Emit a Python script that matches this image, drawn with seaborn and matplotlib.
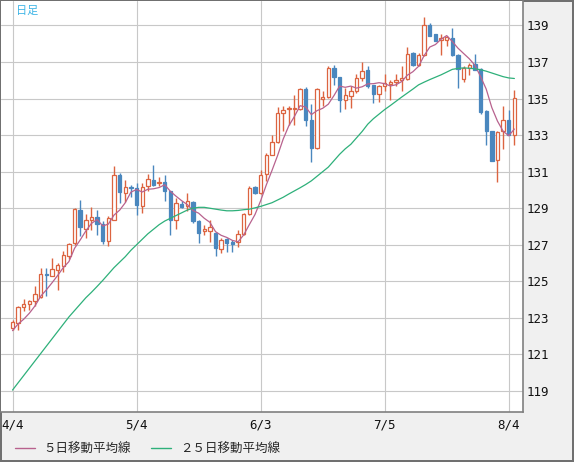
import numpy as np
import pandas as pd
import matplotlib
matplotlib.use("Agg")
import matplotlib.pyplot as plt
from matplotlib.lines import Line2D
import seaborn as sns

sns.set_theme(style="white")
plt.rcParams['font.family'] = ['Noto Sans CJK JP', 'DejaVu Sans']

# weekday calendar and x tick labels
dates = pd.bdate_range("2022-04-04", "2022-08-05")
tick_dates = ["2022-04-04", "2022-05-04", "2022-06-03", "2022-07-05", "2022-08-04"]
tick_labels = ["4/4", "5/4", "6/3", "7/5", "8/4"]
y_ticks = [119, 121, 123, 125, 127, 129, 131, 133, 135, 137, 139]

# daily candles
opens = [122.47, 122.74, 123.57, 123.75, 123.91, 124.13, 125.39, 125.30, 125.63, 125.85,
         126.36, 127.09, 128.92, 127.88, 128.33, 128.52, 128.13, 127.18, 128.37, 130.84,
         129.83, 130.16, 130.09, 129.10, 130.20, 130.56, 130.36, 130.43, 129.92, 128.37,
         129.25, 129.10, 129.34, 128.30, 127.73, 127.78, 127.64, 126.78, 127.31, 127.13,
         127.13, 127.58, 128.68, 130.14, 129.83, 130.85, 131.93, 132.62, 134.21, 134.42,
         134.43, 134.45, 135.55, 133.85, 132.30, 135.00, 135.09, 136.68, 136.19, 134.93,
         135.13, 135.44, 136.13, 136.59, 135.77, 135.24, 135.71, 135.82, 135.90, 136.04,
         136.08, 137.47, 136.83, 137.37, 139.00, 138.51, 138.22, 138.23, 138.29, 137.41,
         136.08, 136.68, 136.90, 136.63, 134.34, 133.21, 131.62, 133.21, 133.85, 133.03]
highs = [122.89, 123.66, 124.02, 123.99, 124.72, 125.72, 125.72, 126.27, 126.00, 126.64,
         127.10, 129.00, 129.43, 128.70, 129.06, 128.88, 128.28, 128.59, 131.29, 130.93,
         130.53, 130.29, 130.38, 130.38, 130.89, 131.38, 130.70, 130.83, 129.95, 129.56,
         129.37, 129.83, 129.40, 128.35, 128.10, 128.37, 127.70, 127.36, 127.36, 127.27,
         127.82, 128.75, 130.20, 130.20, 131.07, 132.02, 133.03, 134.52, 134.58, 134.58,
         135.22, 135.59, 135.64, 134.71, 135.59, 135.40, 136.77, 136.83, 136.19, 135.58,
         135.68, 136.32, 137.01, 136.81, 135.77, 135.77, 136.37, 136.04, 136.32, 136.77,
         137.81, 137.54, 137.50, 139.47, 139.15, 138.56, 138.51, 138.41, 138.87, 137.45,
         136.77, 136.95, 137.45, 136.68, 134.38, 133.25, 133.21, 134.58, 134.40, 135.49]
lows = [122.31, 122.34, 123.35, 123.44, 123.66, 124.10, 124.22, 125.28, 124.53, 125.50,
        126.20, 127.00, 127.46, 127.37, 127.82, 127.55, 127.04, 126.95, 128.33, 129.28,
        129.32, 129.61, 128.65, 128.73, 129.92, 130.20, 130.20, 129.37, 127.55, 127.86,
        129.00, 128.83, 128.20, 127.09, 127.55, 127.13, 126.36, 126.54, 126.63, 126.63,
        126.90, 127.55, 128.64, 129.80, 129.79, 130.47, 131.90, 132.57, 133.21, 133.58,
        133.58, 134.40, 133.48, 131.53, 132.24, 134.58, 135.04, 135.77, 134.27, 134.45,
        134.50, 135.31, 135.95, 135.57, 134.76, 134.80, 135.40, 134.95, 135.68, 135.40,
        136.04, 136.77, 136.77, 137.32, 138.42, 138.14, 137.37, 137.90, 137.32, 135.59,
        135.91, 136.28, 136.59, 134.16, 132.48, 131.57, 130.42, 132.26, 132.99, 132.48]
closes = [122.75, 123.60, 123.75, 123.90, 124.30, 125.39, 125.32, 125.67, 125.91, 126.45,
          127.04, 128.96, 127.95, 128.37, 128.52, 128.13, 127.18, 128.46, 130.84, 129.87,
          130.16, 130.09, 129.16, 130.16, 130.62, 130.29, 130.43, 129.92, 128.37, 129.28,
          129.06, 129.37, 128.28, 127.67, 127.88, 127.95, 126.82, 127.27, 127.09, 127.06,
          127.58, 128.70, 130.10, 129.83, 130.83, 131.90, 132.62, 134.21, 134.36, 134.47,
          134.47, 135.55, 133.83, 132.30, 135.55, 135.11, 136.68, 136.17, 134.91, 135.22,
          135.44, 136.13, 136.53, 135.71, 135.27, 135.71, 135.86, 135.90, 136.04, 136.13,
          137.45, 136.83, 137.37, 139.00, 138.45, 138.14, 138.29, 138.36, 137.36, 136.64,
          136.68, 136.86, 136.59, 134.27, 133.21, 131.60, 133.17, 133.83, 133.03, 135.04]

# 25-day average as drawn (it needs days before the window)
ma25 = [119.05, 119.45, 119.85, 120.25, 120.65, 121.05, 121.45, 121.85, 122.25, 122.65,
        123.05, 123.40, 123.75, 124.10, 124.40, 124.72, 125.05, 125.40, 125.75, 126.05,
        126.35, 126.70, 127.00, 127.30, 127.60, 127.85, 128.10, 128.30, 128.45, 128.60,
        128.75, 128.90, 129.00, 129.05, 129.05, 129.00, 128.95, 128.90, 128.86, 128.86,
        128.88, 128.92, 128.95, 129.02, 129.10, 129.20, 129.30, 129.45, 129.60, 129.78,
        129.95, 130.12, 130.30, 130.50, 130.75, 131.00, 131.25, 131.60, 131.95, 132.25,
        132.50, 132.85, 133.20, 133.60, 133.90, 134.15, 134.40, 134.62, 134.85, 135.08,
        135.30, 135.52, 135.75, 135.90, 136.04, 136.17, 136.30, 136.45, 136.60, 136.65,
        136.68, 136.66, 136.63, 136.58, 136.50, 136.40, 136.30, 136.20, 136.13, 136.10]
# first four 5-day values as drawn
ma5_head = [122.30, 122.67, 122.93, 123.26]

df = pd.DataFrame({"date": dates, "open": opens, "high": highs,
                   "low": lows, "close": closes, "ma25": ma25})
df["i"] = np.arange(len(df))
df["ma5"] = df["close"].rolling(5).mean()
df.loc[:3, "ma5"] = ma5_head
up = df["close"] >= df["open"]

UP = "#dc6440"
DOWN = "#4a87be"
MA5_C = "#b8628e"
MA25_C = "#2eb07a"

W, H = 574, 462
fig = plt.figure(figsize=(W / 100, H / 100), dpi=100, facecolor="#f0f0f0",
                 edgecolor="#707070", linewidth=1.5)
ax = fig.add_axes([1 / W, 50 / H, 522.3 / W, 411 / H])
ax.set_facecolor("white")

# wicks then bodies
ax.vlines(df.i[up], df.low[up], df.high[up], color=UP, lw=1, zorder=2)
ax.vlines(df.i[~up], df.low[~up], df.high[~up], color=DOWN, lw=1, zorder=2)
body_lo = np.minimum(df.open, df.close)
body_h = np.maximum((df.close - df.open).abs(), 0.03)
ax.bar(df.i[up], body_h[up], bottom=body_lo[up], width=0.6,
       facecolor="white", edgecolor=UP, linewidth=0.9, zorder=3)
ax.bar(df.i[~up], body_h[~up], bottom=body_lo[~up], width=0.6,
       facecolor=DOWN, edgecolor=DOWN, linewidth=0.9, zorder=3)

sns.lineplot(data=df, x="i", y="ma5", ax=ax, color=MA5_C, lw=0.9, zorder=4,
             label="５日移動平均線")
sns.lineplot(data=df, x="i", y="ma25", ax=ax, color=MA25_C, lw=0.9, zorder=4,
             label="２５日移動平均線")

ax.set_xlim(-2.04, 90.58)
ax.set_ylim(117.85, 140.34)
tick_pos = [int(np.where(dates == pd.Timestamp(d))[0][0]) for d in tick_dates]
ax.set_xticks(tick_pos)
ax.set_xticklabels(tick_labels)
ax.set_yticks(y_ticks)
ax.set_yticklabels([str(v) for v in y_ticks])
ax.yaxis.tick_right()
ax.tick_params(axis="both", length=0, labelsize=9, labelcolor="#111111")
ax.tick_params(axis="x", pad=4.5)
ax.tick_params(axis="y", pad=2.5)
for lab in ax.get_xticklabels() + ax.get_yticklabels():
    lab.set_family("DejaVu Sans Mono")
ax.set_xlabel("")
ax.set_ylabel("")
ax.grid(True, color="#c8c8c8", lw=0.8)
ax.set_axisbelow(True)
for s in ["left", "top"]:
    ax.spines[s].set_visible(False)
for s in ["right", "bottom"]:
    ax.spines[s].set_color("#808080")
    ax.spines[s].set_linewidth(1.2)

ax.get_legend().remove()
handles = [Line2D([], [], color=MA5_C, lw=1), Line2D([], [], color=MA25_C, lw=1)]
fig.legend(handles, ["５日移動平均線", "２５日移動平均線"], loc="center left",
           bbox_to_anchor=(15 / W, 13 / H), ncol=2, frameon=False, fontsize=9,
           borderpad=0, borderaxespad=0, handlelength=1.6, handletextpad=0.7,
           columnspacing=1.6)

fig.text(16 / W, 1 - 10.5 / H, "日足", color="#3cb4e6", fontsize=8, va="center", ha="left")

fig.savefig("out.png", dpi=100, facecolor=fig.get_facecolor(), edgecolor=fig.get_edgecolor())
